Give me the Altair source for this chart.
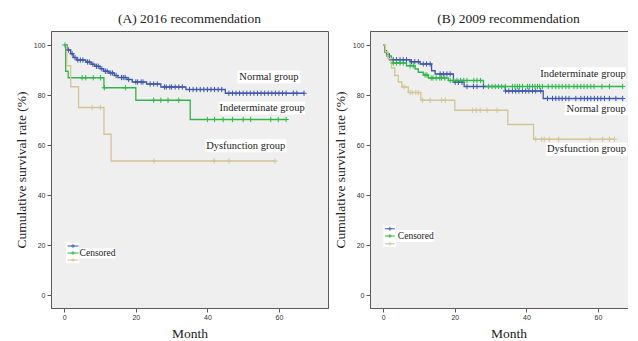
import altair as alt
import pandas as pd

GROUPS = ["Normal group", "Indeterminate group", "Dysfunction group"]
COLORS = ["#3e58ac", "#2eb848", "#d3c594"]

# ---------------- (A) 2016 recommendation ----------------
A_NORMAL_T = [0, 0.8, 1.8, 2.5, 3.5, 6, 7.5, 8.5, 10, 11, 12.5, 14, 15, 17.5, 19, 23, 27, 34, 45, 67]
A_NORMAL_S = [100, 98, 96.5, 95, 94, 93.2, 92.3, 91.5, 90.5, 89.5, 88.8, 87.8, 87.0, 86.2, 85.2, 84.4, 83.2, 82.2, 80.7, 80.7]
A_NORMAL_C = [1.2, 2.2, 3, 3.8, 4.5, 5.2, 6.5, 7, 8, 9, 9.5, 10.5, 11.5, 12, 13, 13.5, 14.5, 16, 16.5, 17, 18,
              20, 20.5, 21.5, 22, 24, 25, 26, 28, 28.5, 29.5, 30, 31, 32, 33, 35, 36, 37, 38, 39, 40, 41, 42,
              43, 44, 46, 47, 48, 49, 50, 51, 52, 53, 54, 55, 56, 57, 58, 59, 60, 61, 62, 64, 65, 67]

A_INDET_T = [0, 0.4, 1.1, 11.1, 20, 35.2, 62]
A_INDET_S = [100, 89.5, 86.9, 82.9, 77.9, 70.2, 70.2]
A_INDET_C = [0.2, 5, 6, 8.1, 10.1, 11.2, 17.1, 25, 27, 29, 32, 40, 42, 44.4, 47, 50, 52.1, 57.7, 59.8, 62]

A_DYS_T = [0, 0.7, 1.8, 4.0, 11.1, 13.1, 58.9]
A_DYS_S = [100, 91.7, 83.3, 75.0, 64.3, 53.6, 53.6]
A_DYS_C = [7.8, 10.1, 25.1, 41.9, 46, 58.9]

# ---------------- (B) 2009 recommendation ----------------
B_NORMAL_T = [0, 0.4, 0.9, 1.7, 7.5, 10.3, 13.5, 14.5, 19.6, 22.6, 34.1, 44.7, 67]
B_NORMAL_S = [100, 97.7, 96.4, 94.1, 93.3, 92.4, 89.7, 88.4, 85.1, 83.4, 81.6, 78.6, 78.6]
B_NORMAL_C = [2.8, 3.7, 4.7, 5.6, 6.5, 7.9, 8.8, 9.8, 11.2, 12.1, 13.1, 15.9, 16.8, 17.8, 18.7, 20.1, 21, 22,
              23.4, 25.2, 26.2, 28, 34.2, 35.1, 36.1, 37, 37.9, 38.9, 39.8, 40.7, 41.7, 42.6, 44, 45.9, 47.3,
              48.2, 49.1, 50, 51, 51.9, 53.8, 55.2, 56.2, 57.1, 58, 59, 59.9, 60.8, 61.8, 63.2, 65, 66.9]

B_INDET_T = [0, 0.4, 1.0, 2.3, 6.5, 8.9, 9.8, 11.2, 12.6, 18.2, 28, 67]
B_INDET_S = [100, 97.1, 95.6, 92.8, 91.7, 90.4, 89.1, 88.0, 86.8, 85.8, 83.4, 83.4]
B_INDET_C = [2.8, 3.7, 4.7, 5.6, 7.5, 8.4, 11.7, 12.2, 13.4, 13.9, 14.8, 15.8, 16.3, 17.2, 18.7, 19.7, 20.6,
             21.6, 22.5, 23.4, 25.3, 26.2, 27.2, 29.4, 30.4, 31.3, 32.2, 33.1, 34.1, 36.1, 36.8, 37.5, 38.1,
             38.9, 40.3, 40.9, 41.7, 42.4, 43.1, 43.7, 44.5, 46.1, 47.2, 48.2, 49.1, 50, 51, 51.9, 53.3,
             54.2, 55.2, 56.1, 57, 58, 58.9, 61.1, 63.2, 66.9]

B_DYS_T = [0, 0.6, 1.3, 2.3, 3.2, 4.2, 5.2, 7.0, 10.5, 20.0, 34.8, 42.0, 64.8]
B_DYS_S = [100, 97.3, 94.5, 90.8, 87.8, 85.2, 83.2, 81.0, 77.9, 73.9, 68.2, 62.3, 62.3]
B_DYS_C = [5.8, 7.5, 8.1, 9.1, 9.8, 11, 13.1, 16.3, 17.3, 25, 26, 27.1, 29, 31.8, 42.6, 44.3, 45, 46.4, 49,
           57.8, 61.3, 63.2, 64.6]

FRAME = "#5a5a5a"
SERIF = "Liberation Serif"
SANS = "Liberation Sans"
X_DOMAIN = [-3.7, 73.7]
Y_DOMAIN = [-5.2, 105.6]


def surv_at(ts, ss, t):
    v = ss[0]
    for ti, si in zip(ts, ss):
        if ti <= t:
            v = si
    return v


def build_frames(curves):
    lines, marks = [], []
    for g, (ts, ss, cs) in zip(GROUPS, curves):
        for t, s in zip(ts, ss):
            lines.append({"t": t, "s": s, "g": g})
        for c in cs:
            marks.append({"t": c, "s": surv_at(ts, ss, c), "g": g})
    return pd.DataFrame(lines), pd.DataFrame(marks)


def panel(title, curves, labels, legend, width, height):
    lines_df, marks_df = build_frames(curves)
    xs = alt.Scale(domain=X_DOMAIN, nice=False, zero=False)
    ys = alt.Scale(domain=Y_DOMAIN, nice=False, zero=False)
    xaxis = alt.Axis(title="Month", values=[0, 20, 40, 60], format="d", grid=False, tickSize=4,
                     labelPadding=1, domainColor=FRAME, tickColor=FRAME, labelFont=SANS,
                     labelFontSize=7, labelColor="#333333", titleFont=SERIF, titleFontSize=13.5,
                     titleFontWeight="normal", titleColor="#222222", titlePadding=6,
                     minExtent=12, maxExtent=12)
    yaxis = alt.Axis(title="Cumulative survival rate (%)", values=[0, 20, 40, 60, 80, 100], format="d",
                     grid=False, tickSize=4, labelPadding=2, domainColor=FRAME, tickColor=FRAME,
                     labelFont=SANS, labelFontSize=7, labelColor="#333333", titleFont=SERIF,
                     titleFontSize=13.5, titleFontWeight="normal", titleColor="#222222",
                     titlePadding=4.25, minExtent=18, maxExtent=18)
    color = alt.Color("g:N", scale=alt.Scale(domain=GROUPS, range=COLORS), legend=None)
    X = lambda f: alt.X(f, scale=xs, axis=xaxis)
    Y = lambda f: alt.Y(f, scale=ys, axis=yaxis)
    cross = "M0,-1V1M-1,0H1"

    line_layer = alt.Chart(lines_df).mark_line(interpolate="step-after", strokeWidth=1.3).encode(
        x=X("t:Q"), y=Y("s:Q"), color=color, detail="g:N")
    mark_layer = alt.Chart(marks_df).mark_point(shape=cross, size=28, strokeWidth=1, filled=False,
                                                opacity=1).encode(x=X("t:Q"), y=Y("s:Q"), color=color)

    lab_df = pd.DataFrame(labels)
    box_layer = alt.Chart(lab_df).mark_rect(color="white").encode(
        x=X("x1:Q"), x2="x2:Q", y=Y("y1:Q"), y2="y2:Q")
    text_layer = alt.Chart(lab_df).mark_text(font=SERIF, fontSize=10.5, color="#222222",
                                             align="center", baseline="middle").encode(
        x=X("tx:Q"), y=Y("ty:Q"), text="text:N")

    lg = legend
    leg_box = alt.Chart(pd.DataFrame(lg["boxes"])).mark_rect(color="white").encode(
        x=X("x1:Q"), x2="x2:Q", y=Y("y1:Q"), y2="y2:Q")
    sw_df = pd.DataFrame({"g": GROUPS, "x1": [lg["sx1"]] * 3, "x2": [lg["sx2"]] * 3,
                          "t": [(lg["sx1"] + lg["sx2"]) / 2] * 3, "s": lg["sy"]})
    leg_rule = alt.Chart(sw_df).mark_rule(strokeWidth=1).encode(
        x=X("x1:Q"), x2="x2:Q", y=Y("s:Q"), color=color)
    leg_pt = alt.Chart(sw_df).mark_point(shape=cross, size=18, strokeWidth=0.8, filled=False,
                                         opacity=1).encode(x=X("t:Q"), y=Y("s:Q"), color=color)
    leg_text = alt.Chart(pd.DataFrame([{"tx": lg["tx"], "ty": lg["ty"], "text": "Censored"}])).mark_text(
        font=SERIF, fontSize=9.5, color="#222222", align="center", baseline="middle").encode(
        x=X("tx:Q"), y=Y("ty:Q"), text="text:N")

    return alt.layer(line_layer, mark_layer, box_layer, text_layer, leg_box, leg_rule, leg_pt,
                     leg_text).properties(
        width=width, height=height,
        title=alt.TitleParams(title, font=SERIF, fontSize=13.5, fontWeight="normal", color="#222222",
                              anchor="middle", frame="group", offset=6))


def label(text, tx, ty, w):
    return {"text": text, "tx": tx, "ty": ty, "x1": tx - w / 2, "x2": tx + w / 2,
            "y1": ty - 2.6, "y2": ty + 2.6}


A_LABELS = [label("Normal group", 57.2, 87.2, 17.6), label("Indeterminate group", 55.3, 74.8, 24.0),
            label("Dysfunction group", 50.7, 59.7, 22.8)]
A_LEGEND = {"boxes": [{"x1": 0.45, "x2": 4.2, "y1": 12.7, "y2": 20.9},
                      {"x1": 4.4, "x2": 14.3, "y1": 14.7, "y2": 18.7}],
            "sx1": 0.9, "sx2": 4.0, "sy": [19.6, 16.8, 14.0], "tx": 9.3, "ty": 16.8}

B_LABELS = [label("Indeterminate group", 55.8, 88.5, 24.0), label("Normal group", 59.5, 74.5, 17.6),
            label("Dysfunction group", 56.8, 58.3, 22.8)]
B_LEGEND = {"boxes": [{"x1": 0.1, "x2": 3.5, "y1": 19.2, "y2": 28.0},
                      {"x1": 3.7, "x2": 14.3, "y1": 21.2, "y2": 26.0}],
            "sx1": 0.45, "sx2": 3.25, "sy": [26.5, 23.6, 20.5], "tx": 9.1, "ty": 23.6}

pa = panel("(A) 2016 recommendation",
           [(A_NORMAL_T, A_NORMAL_S, A_NORMAL_C), (A_INDET_T, A_INDET_S, A_INDET_C),
            (A_DYS_T, A_DYS_S, A_DYS_C)], A_LABELS, A_LEGEND, 277, 277)
pb = panel("(B) 2009 recommendation",
           [(B_NORMAL_T, B_NORMAL_S, B_NORMAL_C), (B_INDET_T, B_INDET_S, B_INDET_C),
            (B_DYS_T, B_DYS_S, B_DYS_C)], B_LABELS, B_LEGEND, 277, 277)

chart = alt.hconcat(pa, pb, spacing=4).properties(
    padding={"left": 6, "top": 3, "right": -20, "bottom": 0}, background="white"
).configure_view(fill="#efefef", stroke=FRAME, strokeWidth=1)

chart.save("out.html", embed_options={"renderer": "svg", "actions": False})
